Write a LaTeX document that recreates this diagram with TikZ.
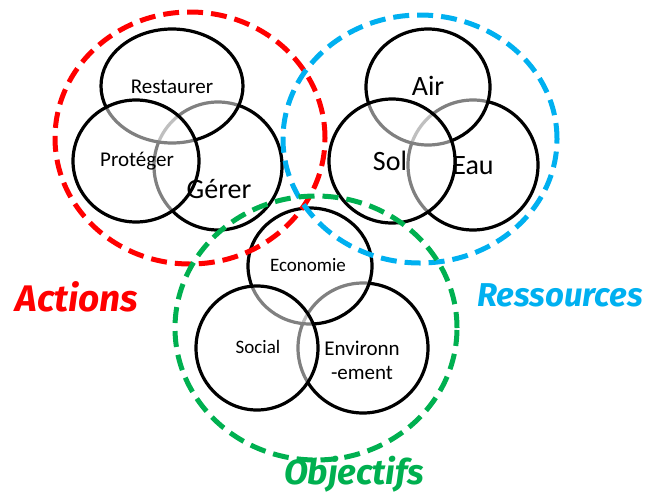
\documentclass[tikz,border=0pt]{standalone}
\usepackage{fontspec}
\setmainfont{Carlito}
\newfontfamily\titlefont{Fira Sans}
\definecolor{actred}{RGB}{255,0,0}
\definecolor{resblue}{RGB}{0,176,240}
\definecolor{objgreen}{RGB}{0,176,80}
\tikzset{
  ring/.style={draw=black, line width=3.2pt, fill=white, fill opacity=0.5},
  bigring/.style={line width=5pt, dash pattern=on 16pt off 8pt},
  word/.style={font=\fontsize{21}{24}\selectfont},
  bigword/.style={font=\fontsize{28}{32}\selectfont},
  title/.style={font=\titlefont\bfseries\itshape\fontsize{37}{40}\selectfont}
}
\begin{document}
\begin{tikzpicture}[x=1pt,y=-1pt]
  \useasboundingbox (0,0) rectangle (647,496);

  % actions
  \draw[ring] (218,166) ellipse [x radius=64pt, y radius=64pt];
  \draw[ring] (172,86) ellipse [x radius=71pt, y radius=57pt];
  \draw[ring] (136,161) ellipse [x radius=63pt, y radius=61pt];
  \node[word] (restaurer) at (172,87) {Restaurer};
  \node[word] (proteger) at (137,161) {Protéger};
  \node[bigword] (gerer) at (219,189) {Gérer};

  % ressources
  \draw[ring] (473,165) ellipse [x radius=65pt, y radius=65pt];
  \draw[ring] (428,87) ellipse [x radius=62pt, y radius=58pt];
  \draw[ring] (392,161) ellipse [x radius=63pt, y radius=62pt];
  \node[bigword] (air) at (428,86) {Air};
  \node[bigword] (sol) at (390,161) {Sol};
  \node[bigword] (eau) at (473,166) {Eau};

  % objectifs
  \draw[ring] (363,348) ellipse [x radius=65pt, y radius=65pt];
  \draw[ring] (310,266) ellipse [x radius=62pt, y radius=58pt];
  \draw[ring] (257,348) ellipse [x radius=61pt, y radius=62pt];
  \node[word, font=\fontsize{19}{22}\selectfont] (economie) at (308,265) {Economie};
  \node[word, font=\fontsize{19}{22}\selectfont] (social) at (258,347) {Social};
  \node[word, align=center] (environnement) at (362,360) {Environn\\-ement};

  % dashed groups
  \draw[bigring, actred] (190,138) ellipse [x radius=135pt, y radius=126pt];
  \draw[bigring, resblue] (420,139) ellipse [x radius=137pt, y radius=124pt];
  \draw[bigring, objgreen] (316,328) ellipse [x radius=141pt, y radius=132pt];

  \node[title, actred] (actions) at (77,297) {Actions};
  \node[title, resblue, font=\titlefont\bfseries\itshape\fontsize{33}{36}\selectfont] (ressources) at (560,295) {Ressources};
  \node[title, objgreen, font=\titlefont\bfseries\itshape\fontsize{35}{38}\selectfont] (objectifs) at (354,474) {Objectifs};
\end{tikzpicture}
\end{document}
